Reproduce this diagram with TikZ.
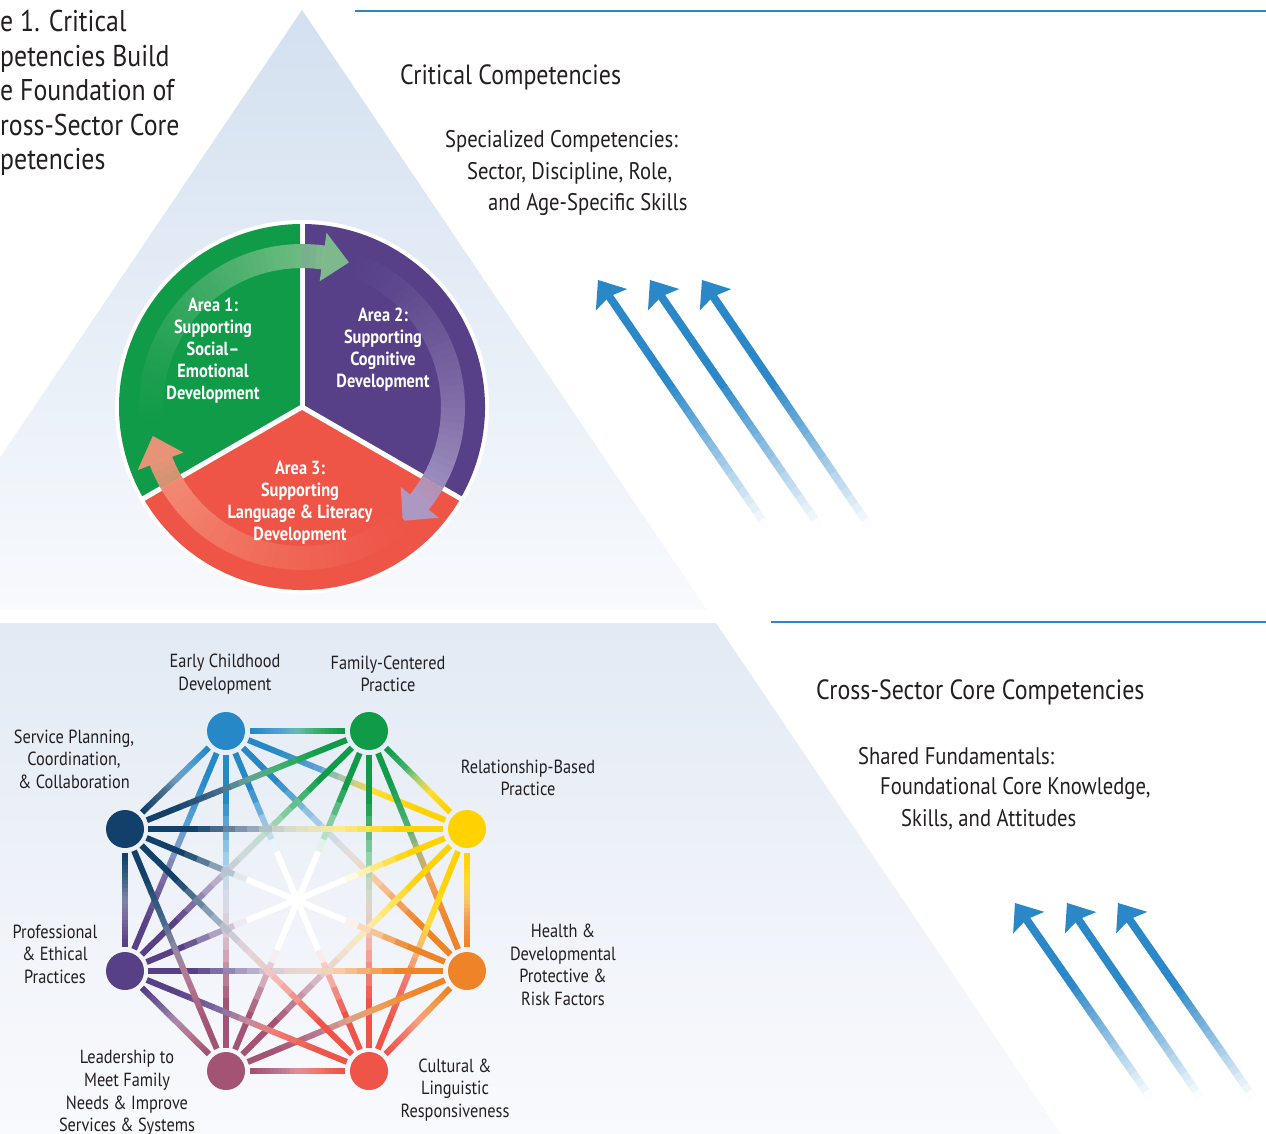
\documentclass[tikz,border=0pt]{standalone}
\usepackage{fontspec}
\setmainfont[FakeStretch=0.86]{PT Sans}
\usetikzlibrary{calc}
\definecolor{txt}{HTML}{231F20}
\definecolor{abl}{HTML}{2A88C8}
\definecolor{triTop}{HTML}{D3E0F0}
\definecolor{triBot}{HTML}{F8FAFD}
\definecolor{trapTop}{HTML}{E3EAF4}
\definecolor{trapBot}{HTML}{F9FAFD}
\definecolor{gA}{HTML}{109B48}
\definecolor{pA}{HTML}{574087}
\definecolor{rA}{HTML}{EE5547}
\definecolor{gArr}{HTML}{80C18E}
\definecolor{pArr}{HTML}{A99DC9}
\definecolor{rArr}{HTML}{F4937C}
\definecolor{c1}{HTML}{2788C8}
\definecolor{c2}{HTML}{0F9B48}
\definecolor{c3}{HTML}{FFD200}
\definecolor{c4}{HTML}{EE8427}
\definecolor{c5}{HTML}{EE5548}
\definecolor{c6}{HTML}{A35373}
\definecolor{c7}{HTML}{574086}
\definecolor{c8}{HTML}{12406A}
\pgfdeclarelayer{bg}
\pgfdeclarelayer{edges}
\pgfsetlayers{bg,edges,main}
\def\NX{{226,369,467,467,369,226,125,125}}
\def\NY{{731,731,829,971,1071,1071,971,829}}
\begin{document}
\begin{tikzpicture}[x=1pt,y=-1pt,
  lbl/.style={font=\fontsize{19}{22.6}\selectfont, text=txt, align=center, inner sep=0pt},
  head/.style={font=\fontsize{27.8}{32}\selectfont, text=txt, anchor=west, inner sep=0pt},
  sub/.style={font=\fontsize{24}{32}\selectfont, text=txt, anchor=west, inner sep=0pt},
  area/.style={font=\bfseries\fontsize{19}{22}\selectfont, text=white, align=center, inner sep=0pt},
  dot/.style={circle, minimum size=38pt, inner sep=0pt},
  rule/.style={abl, line width=2pt}]
\useasboundingbox (0,0) rectangle (1266,1134);
\begin{pgfonlayer}{bg}
\fill[white] (0,0) rectangle (1266,1134);
\shade[top color=triTop, bottom color=triBot] (302,10) -- (707,610) -- (-103,610) -- cycle;
\shade[top color=trapTop, bottom color=trapBot] (716,623) -- (1061,1134) -- (-5,1134) -- (-5,623) -- cycle;
\end{pgfonlayer}
% rules
\coordinate (r1a) at (355,11); \coordinate (r1b) at (1266,11);
\coordinate (r2a) at (771,622); \coordinate (r2b) at (1266,622);
\draw[rule] (r1a) -- (r1b);
\draw[rule] (r2a) -- (r2b);
% title
\node[font=\fontsize{30}{34.6}\selectfont, text=txt, align=left, anchor=west, inner sep=0pt] (title) at (0,93)
 {e 1. Critical\\petencies Build\\e Foundation of\\ross-Sector Core\\petencies};
% right texts
\node[head] (cc) at (400,77) {Critical Competencies};
\node[sub] (s1) at (445,141) {Specialized Competencies:};
\node[sub] (s2) at (467,173) {Sector, Discipline, Role,};
\node[sub] (s3) at (488,205) {and Age-Specific Skills};
\node[head] (cs) at (816,692) {Cross-Sector Core Competencies};
\node[sub] (f1) at (858,756) {Shared Fundamentals:};
\node[sub] (f2) at (880,788) {Foundational Core Knowledge,};
\node[sub] (f3) at (901,820) {Skills, and Attitudes};
% blue arrows
\foreach \n/\hx/\hy/\tx/\ty in {u1/598/280/767/527, u2/650/280/820/527, u3/702/280/870/527, d1/1015/903/1150/1097, d2/1067/903/1200/1097, d3/1118/903/1253/1097} {
  \coordinate (\n h) at (\hx,\hy);
  \coordinate (\n t) at (\tx,\ty);
  \coordinate (\n b) at ($(\n h)!18pt!(\n t)$);
  \foreach \k in {0,...,29} {
    \pgfmathsetmacro\sA{\k/30}
    \pgfmathsetmacro\sB{(\k+1.02)/30}
    \pgfmathtruncatemacro\pv{min(100,100*((\k+0.5)/30)/0.62)}
    \draw[line width=8pt, color=abl!\pv!white] ($(\n t)!\sA!(\n b)$) -- ($(\n t)!\sB!(\n b)$);
  }
  \coordinate (\n m) at ($(\n h)!24pt!(\n t)$);
  \fill[abl] (\n h) -- ($(\n m)!19pt!90:(\n h)$) -- ($(\n h)!20pt!(\n t)$) -- ($(\n m)!19pt!-90:(\n h)$) -- cycle;
}
% circle diagram
\begin{scope}[shift={(302,407)}]
\fill[white] (0,0) circle (187pt);
\fill[gA] (0,0) -- (90:183pt) arc[start angle=90,end angle=210,radius=183pt] -- cycle;
\fill[pA] (0,0) -- (-30:183pt) arc[start angle=-30,end angle=90,radius=183pt] -- cycle;
\fill[rA] (0,0) -- (210:183pt) arc[start angle=210,end angle=330,radius=183pt] -- cycle;
\foreach \a in {90,210,330} \draw[white, line width=5pt] (0,0) -- (\a:185pt);
\foreach \st/\en/\col/\ht in {190/82/gArr/72, 72/-39/pArr/-48.5, -48/-159/rArr/-169} {
  \foreach \sa/\sb/\scol in {90/210/gA, -30/90/pA, 210/330/rA} {
    \begin{scope}
    \clip (0,0) -- (\sa:200pt) arc[start angle=\sa, end angle=\sb, radius=200pt] -- cycle;
    \foreach \k in {0,...,39} {
      \pgfmathsetmacro\aA{\st+(\en-\st)*\k/40}
      \pgfmathsetmacro\aB{\st+(\en-\st)*(\k+1.1)/40}
      \pgfmathtruncatemacro\op{92*((\k+1)/40)^1.4}
      \draw[color=\col!\op!\scol, line width=24pt] (\aA:151pt) arc[start angle=\aA, end angle=\aB, radius=151pt];
    }
    \end{scope}
  }
  \fill[\col, opacity=0.94] (\en:127pt) -- (\en:176pt) -- (\ht:152pt) -- cycle;
}
\end{scope}
\node[area] (a1) at (213,351) {Area 1:\\Supporting\\Social–\\Emotional\\Development};
\node[area] (a2) at (383,350) {Area 2:\\Supporting\\Cognitive\\Development};
\node[area] (a3) at (300,503) {Area 3:\\Supporting\\Language \& Literacy\\Development};
% network nodes
\foreach \i in {1,...,8} {
  \pgfmathsetmacro\xx{\NX[\i-1]}
  \pgfmathsetmacro\yy{\NY[\i-1]}
  \node[dot, fill=c\i] (n\i) at (\xx,\yy) {};
}
% edges
\begin{pgfonlayer}{edges}
\foreach \i in {1,...,7} {
  \pgfmathtruncatemacro\jst{\i+1}
  \foreach \j in {\jst,...,8} {
    \pgfmathsetmacro\xa{\NX[\i-1]}
    \pgfmathsetmacro\ya{\NY[\i-1]}
    \pgfmathsetmacro\xb{\NX[\j-1]}
    \pgfmathsetmacro\yb{\NY[\j-1]}
    \pgfmathsetmacro\len{veclen(\xb-\xa,\yb-\ya)}
    \pgfmathsetmacro\tS{24/\len}
    \foreach \k in {0,...,23} {
      \pgfmathsetmacro\tA{\tS+(1-2*\tS)*\k/24}
      \pgfmathsetmacro\tB{\tS+(1-2*\tS)*(\k+1.05)/24}
      \pgfmathsetmacro\tM{\tS+(1-2*\tS)*(\k+0.5)/24}
      \pgfmathsetmacro\dd{veclen(\xa+(\xb-\xa)*\tM-296,\ya+(\yb-\ya)*\tM-901)}
      \pgfmathsetmacro\wc{1-max(0,min(1,(\dd-52)/70))}
      \pgfmathsetmacro\wb{0.35*max(0,1-abs(\tM-0.5)/0.3)}
      \pgfmathtruncatemacro\kv{100*(1-max(\wc,\wb))}
      \pgfmathtruncatemacro\mv{100*max(0,min(1,(0.62-\tM)/0.24))}
      \draw[line width=6pt, color=c\i!\mv!c\j!\kv!white] ($(n\i)!\tA!(n\j)$) -- ($(n\i)!\tB!(n\j)$);
    }
  }
}
\end{pgfonlayer}
% labels
\node[lbl] (l1) at (225,674) {Early Childhood\\Development};
\node[lbl] (l2) at (388,674) {Family-Centered\\Practice};
\node[lbl] (l3) at (528,778) {Relationship-Based\\Practice};
\node[lbl] (l4) at (563,965) {Health \&\\Developmental\\Protective \&\\Risk Factors};
\node[lbl] (l5) at (455,1090) {Cultural \&\\Linguistic\\Responsiveness};
\node[lbl] (l6) at (127,1093) {Leadership to\\Meet Family\\Needs \& Improve\\Services \& Systems};
\node[lbl] (l7) at (55,954) {Professional\\\& Ethical\\Practices};
\node[lbl] (l8) at (74,759) {Service Planning,\\Coordination,\\\& Collaboration};
\end{tikzpicture}
\end{document}
